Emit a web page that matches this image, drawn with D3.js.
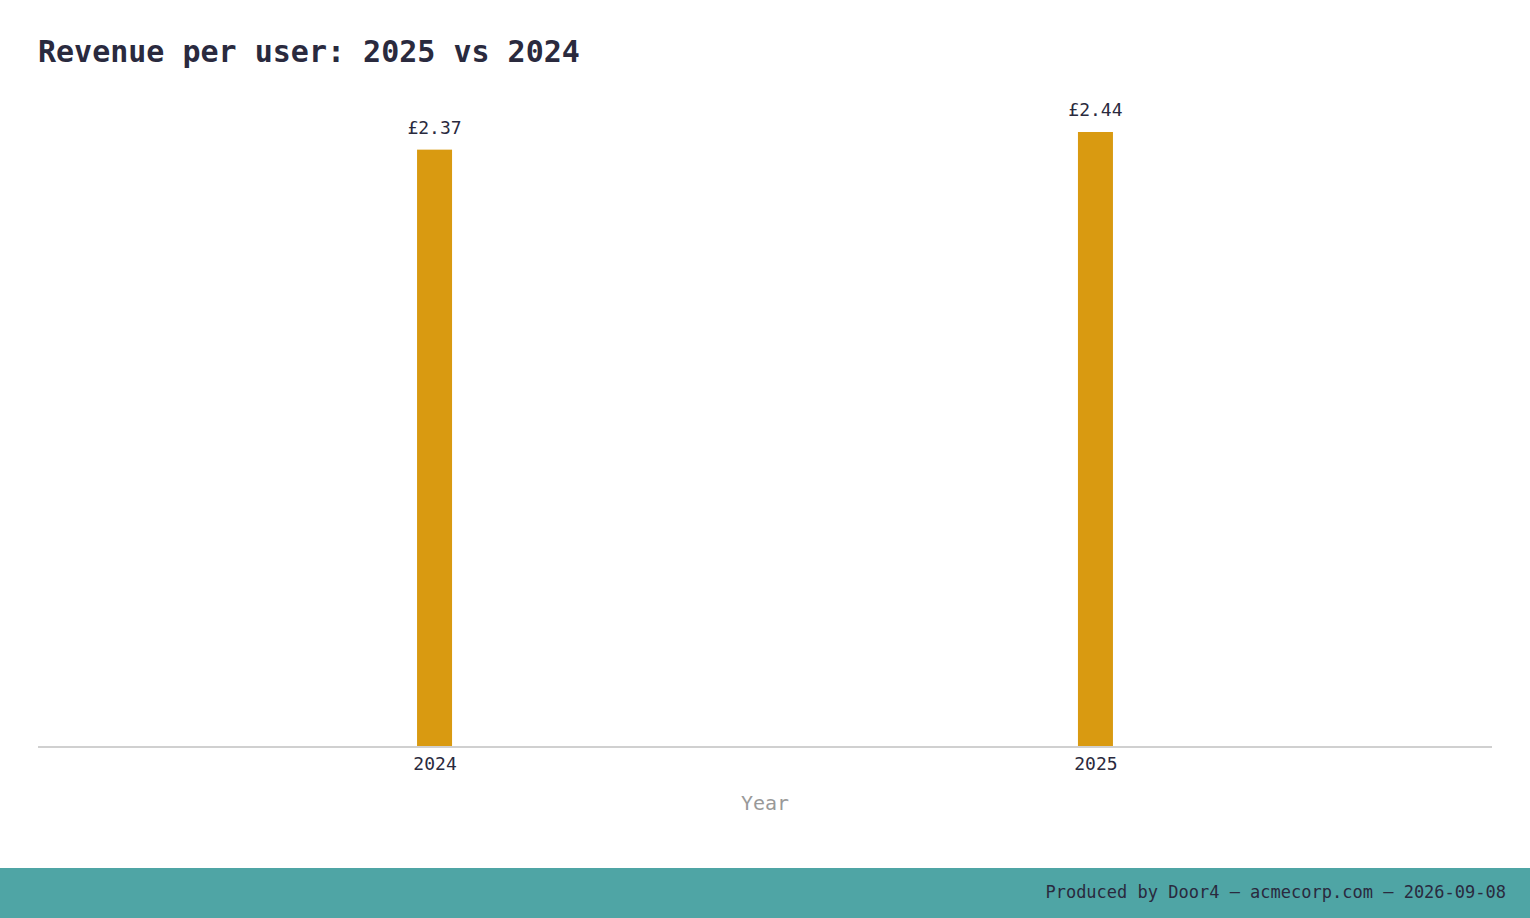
<!DOCTYPE html>
<html><head><meta charset="utf-8">
<script src="https://cdn.jsdelivr.net/npm/d3@7"></script>
<style>body{margin:0;background:#fff}svg{display:block;font-family:"DejaVu Sans Mono",monospace}</style>
</head><body>
<svg id="chart" width="1530" height="918"></svg>
<script>
// data
const years = ["2024", "2025"]
const revenue = [2.37, 2.44]

const svg = d3.select("#chart")
const W = 1530, H = 918
const plotLeft = 38, plotRight = 1492, plotTop = 132, plotBottom = 747

const x = d3.scalePoint().domain(years).range([plotLeft, plotRight]).padding(0.6)
const y = d3.scaleLinear().domain([0, d3.max(revenue)]).range([plotBottom, plotTop])

svg.append("text").attr("x", 38).attr("y", 62)
    .attr("font-size", 30).attr("font-weight", "bold").attr("fill", "#2a2a3e")
    .text("Revenue per user: 2025 vs 2024")

const bw = 35
svg.selectAll("rect.bar").data(years).join("rect").attr("class", "bar")
    .attr("x", d => x(d) - bw / 2).attr("width", bw)
    .attr("y", (d, i) => y(revenue[i])).attr("height", (d, i) => plotBottom - y(revenue[i]))
    .attr("fill", "#d99a11")

svg.selectAll("text.val").data(years).join("text").attr("class", "val")
    .attr("x", d => x(d)).attr("y", (d, i) => y(revenue[i]) - 16)
    .attr("text-anchor", "middle").attr("font-size", 18).attr("fill", "#2a2a3e")
    .text((d, i) => "£" + revenue[i].toFixed(2))

// x axis
const ax = svg.append("g").attr("transform", `translate(0,${plotBottom})`)
    .call(d3.axisBottom(x).tickSize(0).tickPadding(10))
ax.select(".domain").attr("stroke", "#d0d0d0").attr("stroke-width", 2)
    .attr("d", `M${plotLeft},0H${plotRight}`)
ax.selectAll("text").attr("font-size", 18).attr("fill", "#2a2a3e")
    .attr("font-family", "DejaVu Sans Mono, monospace")

svg.append("text").attr("x", (plotLeft + plotRight) / 2).attr("y", 810)
    .attr("text-anchor", "middle").attr("font-size", 20).attr("fill", "#999")
    .text("Year")

// footer
svg.append("rect").attr("x", 0).attr("y", 868).attr("width", W).attr("height", 50).attr("fill", "#4fa5a5")
svg.append("text").attr("x", 1506).attr("y", 898).attr("text-anchor", "end")
    .attr("font-size", 17).attr("fill", "#2a2a3e")
    .text("Produced by Door4 — acmecorp.com — 2026-09-08")
</script>
</body></html>
